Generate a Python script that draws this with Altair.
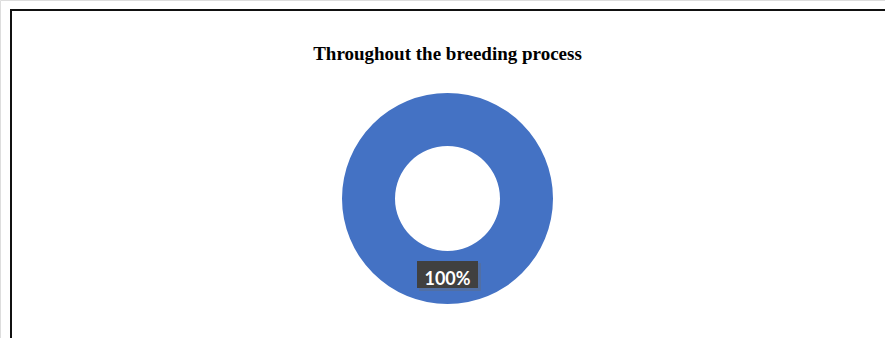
import altair as alt
import pandas as pd

# Share of respondents (single category covers the whole ring)
categories = ["Throughout the breeding process"]
shares = [100]
label_texts = ["100%"]

df = pd.DataFrame({"category": categories, "share": shares, "label": label_texts})

W, H = 885, 338
CX, CY = 447.5, 198.5
R_OUT, R_IN = 105.5, 52.5

base = alt.Chart(df)

ring = base.mark_arc(
    outerRadius=R_OUT, innerRadius=R_IN, color="#4472C4", stroke="white", strokeWidth=0
).encode(
    theta=alt.Theta("share:Q", stack=True),
    x=alt.value(CX),
    y=alt.value(CY),
)

# Data label box with a soft drop shadow
box_shadow = base.mark_rect(color="#6b6b6b", opacity=0.35, cornerRadius=1).encode(
    x=alt.value(419), x2=alt.value(481), y=alt.value(263), y2=alt.value(291)
)
box = base.mark_rect(color="#404040").encode(
    x=alt.value(417), x2=alt.value(478), y=alt.value(261), y2=alt.value(288)
)

label = base.mark_text(
    font="Lato", fontWeight="bold", fontSize=18, color="white",
    align="center", baseline="alphabetic",
).encode(
    text="label:N",
    x=alt.value(CX),
    y=alt.value(285),
)

# Frame lines along the top and left edges
frame_top = base.mark_rule(color="#111111", strokeWidth=2).encode(
    x=alt.value(10), x2=alt.value(W), y=alt.value(10)
)
frame_left = base.mark_rule(color="#111111", strokeWidth=2).encode(
    x=alt.value(11), y=alt.value(9), y2=alt.value(H)
)

title = base.mark_text(
    font="Liberation Serif", fontWeight="bold", fontSize=19, color="#000000",
    align="center", baseline="alphabetic",
).encode(
    text=alt.value("Throughout the breeding process"),
    x=alt.value(CX),
    y=alt.value(60),
)

chart = alt.layer(
    ring, box_shadow, box, label, frame_top, frame_left, title
).properties(
    width=W, height=H, padding=0,
    autosize=alt.AutoSizeParams(type="none"),
).configure_view(stroke=None).configure(background="white")

chart.save("out.html", embed_options={"renderer": "svg", "actions": False})
